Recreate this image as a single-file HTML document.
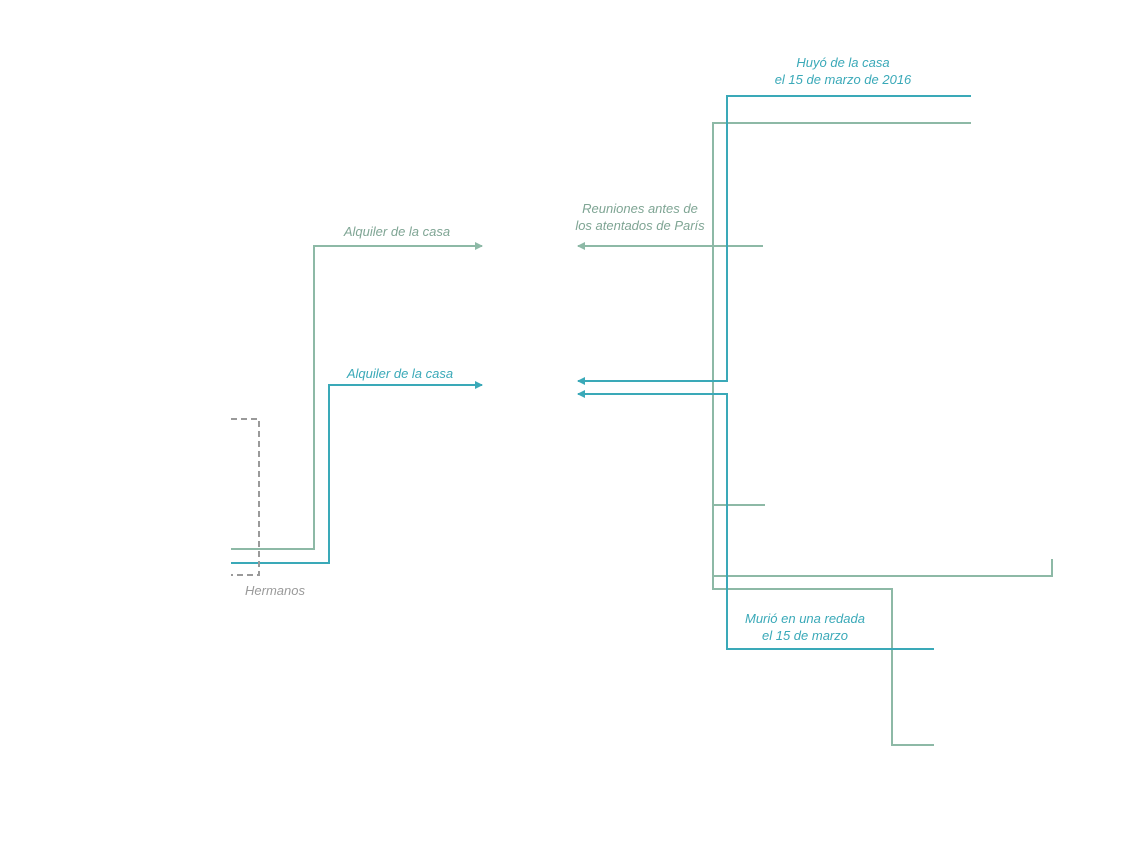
<!DOCTYPE html>
<html><head><meta charset="utf-8"><style>
html,body{margin:0;padding:0;background:#fff;}
svg{display:block;}
text{font-family:"Liberation Sans",sans-serif;font-style:italic;font-size:13px;}
</style></head><body>
<svg width="1140" height="850" xmlns="http://www.w3.org/2000/svg">
<defs>
<marker id="ag" markerWidth="8" markerHeight="8" refX="7" refY="4" orient="auto" markerUnits="userSpaceOnUse"><path d="M0,0 L8,4 L0,8 Z" fill="#8db9a6"/></marker>
<marker id="at" markerWidth="8" markerHeight="8" refX="7" refY="4" orient="auto" markerUnits="userSpaceOnUse"><path d="M0,0 L8,4 L0,8 Z" fill="#3aa9b8"/></marker>
</defs>
<g fill="none" stroke-width="2">
<polyline points="231,549 314,549 314,246 482,246" stroke="#8db9a6" marker-end="url(#ag)"/>
<polyline points="231,563 329,563 329,385 482,385" stroke="#3aa9b8" marker-end="url(#at)"/>
<polyline points="231,419 259,419 259,575 231,575" stroke="#9a9a9a" stroke-dasharray="6,4"/>
<polyline points="763,246 578,246" stroke="#8db9a6" marker-end="url(#ag)"/>
<polyline points="971,123 713,123 713,589 892,589 892,745 934,745" stroke="#8db9a6"/>
<polyline points="713,505 765,505" stroke="#8db9a6"/>
<polyline points="713,576 1052,576 1052,559" stroke="#8db9a6"/>
<polyline points="971,96 727,96 727,381 578,381" stroke="#3aa9b8" marker-end="url(#at)"/>
<polyline points="934,649 727,649 727,394 578,394" stroke="#3aa9b8" marker-end="url(#at)"/>
</g>
<g text-anchor="middle">
<text x="397" y="236" fill="#7fa594">Alquiler de la casa</text>
<text x="400" y="378" fill="#3aa9b8">Alquiler de la casa</text>
<text x="275" y="595" fill="#9a9a9a">Hermanos</text>
<text x="640" y="213" fill="#7fa594">Reuniones antes de</text>
<text x="640" y="230" fill="#7fa594">los atentados de París</text>
<text x="843" y="67" fill="#3aa9b8">Huyó de la casa</text>
<text x="843" y="84" fill="#3aa9b8">el 15 de marzo de 2016</text>
<text x="805" y="623" fill="#3aa9b8">Murió en una redada</text>
<text x="805" y="640" fill="#3aa9b8">el 15 de marzo</text>
</g>
</svg>
</body></html>
